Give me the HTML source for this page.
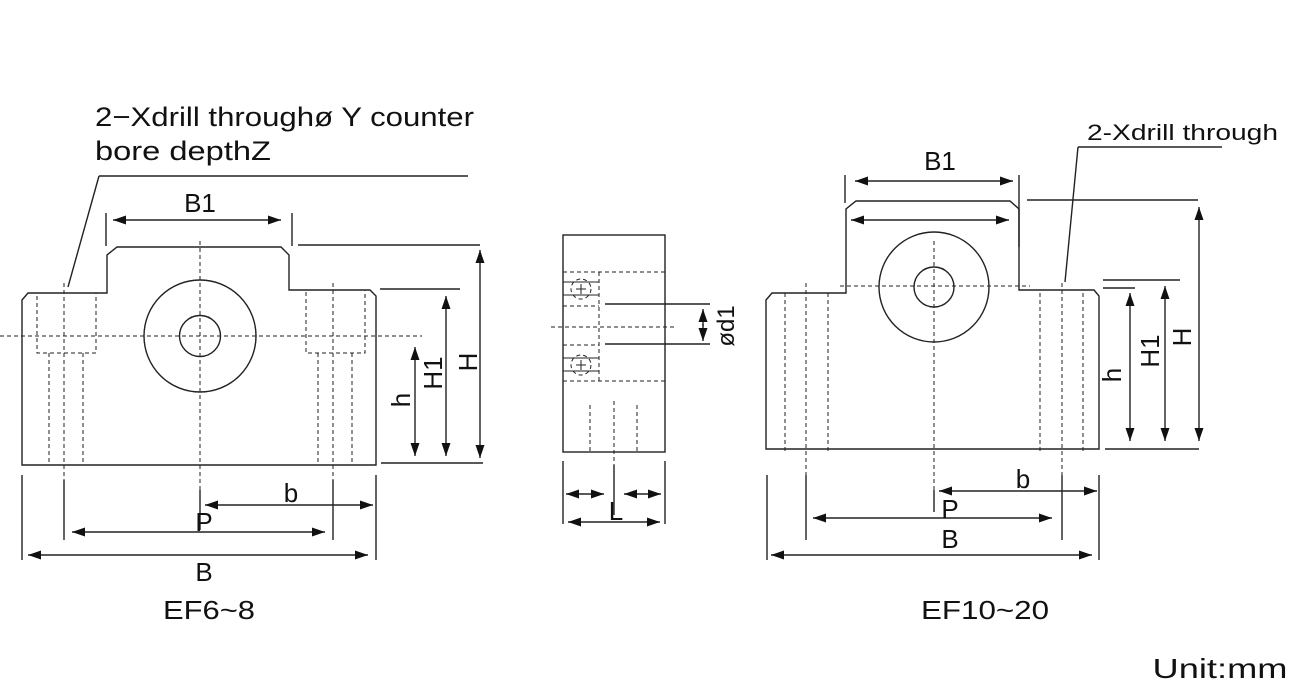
<!DOCTYPE html>
<html><head><meta charset="utf-8"><style>
html,body{margin:0;padding:0;background:#fff;}
svg{display:block;}
text{font-family:"Liberation Sans",Arial,sans-serif;fill:#111;}
</style></head><body>
<svg width="1300" height="689" viewBox="0 0 1300 689" xmlns="http://www.w3.org/2000/svg">
<defs>
<marker id="a" viewBox="0 0 13 9" refX="13" refY="4.5" markerWidth="13" markerHeight="9" markerUnits="userSpaceOnUse" orient="auto-start-reverse"><path d="M0,0 L13,4.5 L0,9 z" fill="#111"/></marker>
</defs>
<g stroke="#222" stroke-width="1.4" fill="none">
<polyline points="99,176 468,176"/><line x1="99" y1="176" x2="68" y2="287"/>
<line x1="106" y1="213" x2="106" y2="246"/><line x1="292" y1="213" x2="292" y2="246"/>
<line x1="113" y1="220" x2="281" y2="220" marker-start="url(#a)" marker-end="url(#a)"/>
<polygon points="22,300 28,293 107,293 107,255 117,247 281,247 289,255 289,290 370,290 376,296 376,465 22,465"/>
<line x1="298" y1="245" x2="480" y2="245"/>
<line x1="480" y1="250" x2="480" y2="458" marker-start="url(#a)" marker-end="url(#a)"/>
<line x1="381" y1="463" x2="483" y2="463"/>
<line x1="380" y1="289" x2="460" y2="289"/>
<line x1="446" y1="296" x2="446" y2="456" marker-start="url(#a)" marker-end="url(#a)"/>
<line x1="415" y1="347" x2="415" y2="456" marker-start="url(#a)" marker-end="url(#a)"/>
<circle cx="200" cy="336" r="56"/><circle cx="200" cy="336" r="20.5"/>
<line x1="22" y1="475" x2="22" y2="560"/><line x1="376" y1="475" x2="376" y2="560"/>
<line x1="64" y1="480" x2="64" y2="540"/><line x1="333" y1="480" x2="333" y2="540"/>
<line x1="200" y1="490" x2="200" y2="530"/>
<line x1="205" y1="505" x2="373" y2="505" marker-start="url(#a)" marker-end="url(#a)"/>
<line x1="72" y1="532" x2="325" y2="532" marker-start="url(#a)" marker-end="url(#a)"/>
<line x1="28" y1="555" x2="368" y2="555" marker-start="url(#a)" marker-end="url(#a)"/>
<rect x="563" y="235" width="102" height="217"/>
<line x1="605" y1="304" x2="710" y2="304"/><line x1="605" y1="344" x2="710" y2="344"/>
<line x1="703" y1="309" x2="703" y2="326" marker-start="url(#a)"/><line x1="703" y1="324" x2="703" y2="341" marker-end="url(#a)"/>
<line x1="614" y1="465" x2="614" y2="515"/>
<line x1="563" y1="461" x2="563" y2="524"/><line x1="665" y1="461" x2="665" y2="524"/>
<line x1="566" y1="494" x2="604" y2="494" marker-start="url(#a)" marker-end="url(#a)"/>
<line x1="624" y1="494" x2="661" y2="494" marker-start="url(#a)" marker-end="url(#a)"/>
<line x1="568" y1="522" x2="660" y2="522" marker-start="url(#a)" marker-end="url(#a)"/>
<line x1="1078" y1="147" x2="1222" y2="147"/><line x1="1078" y1="147" x2="1065" y2="282"/>
<line x1="845" y1="175" x2="845" y2="203"/><line x1="1019" y1="175" x2="1019" y2="247"/>
<line x1="855" y1="181" x2="1013" y2="181" marker-start="url(#a)" marker-end="url(#a)"/>
<line x1="851" y1="220" x2="1009" y2="220" marker-start="url(#a)" marker-end="url(#a)"/>
<polygon points="766,300 772,293 846,293 846,209 856,201 1010,201 1019,209 1019,290 1094,290 1099,296 1099,449 766,449"/>
<circle cx="934" cy="287" r="55"/><circle cx="934" cy="287" r="20"/>
<line x1="1027" y1="200" x2="1198" y2="200"/>
<line x1="1199" y1="207" x2="1199" y2="441" marker-start="url(#a)" marker-end="url(#a)"/>
<line x1="1105" y1="449" x2="1199" y2="449"/>
<line x1="1103" y1="280" x2="1180" y2="280"/>
<line x1="1165" y1="286" x2="1165" y2="441" marker-start="url(#a)" marker-end="url(#a)"/>
<line x1="1103" y1="288" x2="1135" y2="288"/>
<line x1="1130" y1="293" x2="1130" y2="441" marker-start="url(#a)" marker-end="url(#a)"/>
<line x1="767" y1="475" x2="767" y2="560"/><line x1="1099" y1="475" x2="1099" y2="560"/>
<line x1="806" y1="475" x2="806" y2="540"/><line x1="1062" y1="475" x2="1062" y2="540"/>
<line x1="934" y1="490" x2="934" y2="512"/>
<line x1="939" y1="491" x2="1097" y2="491" marker-start="url(#a)" marker-end="url(#a)"/>
<line x1="813" y1="518" x2="1052" y2="518" marker-start="url(#a)" marker-end="url(#a)"/>
<line x1="771" y1="555" x2="1092" y2="555" marker-start="url(#a)" marker-end="url(#a)"/>
</g>
<g stroke="#222" stroke-width="1" fill="none" stroke-dasharray="4,3">
<line x1="0" y1="336" x2="422" y2="336"/>
<line x1="200" y1="241" x2="200" y2="490"/>
<rect x="37" y="293" width="59" height="60"/>
<line x1="49" y1="353" x2="49" y2="465"/><line x1="83" y1="353" x2="83" y2="465"/>
<line x1="64" y1="283" x2="64" y2="480"/>
<rect x="306" y="290" width="59" height="63"/>
<line x1="318" y1="353" x2="318" y2="465"/><line x1="352" y1="353" x2="352" y2="465"/>
<line x1="333" y1="283" x2="333" y2="480"/>
<line x1="563" y1="272" x2="665" y2="272"/><line x1="563" y1="381" x2="665" y2="381"/>
<line x1="599" y1="272" x2="599" y2="381"/>
<line x1="563" y1="306" x2="599" y2="306"/><line x1="563" y1="345" x2="599" y2="345"/>
<line x1="551" y1="327" x2="675" y2="327"/>
<circle cx="581" cy="289" r="10"/><circle cx="581" cy="365" r="10"/>
<line x1="590" y1="405" x2="590" y2="452"/><line x1="614" y1="401" x2="614" y2="465"/><line x1="637" y1="405" x2="637" y2="452"/>
<line x1="840" y1="286" x2="1030" y2="286"/>
<line x1="934" y1="241" x2="934" y2="490"/>
<line x1="785" y1="293" x2="785" y2="453"/><line x1="806" y1="283" x2="806" y2="475"/><line x1="828" y1="293" x2="828" y2="453"/>
<line x1="1040" y1="293" x2="1040" y2="453"/><line x1="1062" y1="283" x2="1062" y2="475"/><line x1="1083" y1="293" x2="1083" y2="453"/>
</g>
<g stroke="#222" stroke-width="1" fill="none">
<line x1="563" y1="282" x2="599" y2="282"/><line x1="563" y1="295" x2="599" y2="295"/>
<line x1="563" y1="358" x2="599" y2="358"/><line x1="563" y1="371" x2="599" y2="371"/>
<line x1="576" y1="289" x2="586" y2="289"/><line x1="581" y1="284" x2="581" y2="294"/>
<line x1="576" y1="365" x2="586" y2="365"/><line x1="581" y1="360" x2="581" y2="370"/>
</g>
<text x="95" y="126" font-size="27" textLength="379" lengthAdjust="spacingAndGlyphs">2−Xdrill throughø Y counter</text>
<text x="95" y="160" font-size="27" textLength="176" lengthAdjust="spacingAndGlyphs">bore depthZ</text>
<text x="200" y="212" font-size="26" text-anchor="middle">B1</text>
<text x="291" y="502" font-size="26" text-anchor="middle">b</text>
<text x="204" y="531" font-size="26" text-anchor="middle">P</text>
<text x="204" y="581" font-size="26" text-anchor="middle">B</text>
<text x="209" y="619" font-size="26" text-anchor="middle" textLength="92" lengthAdjust="spacingAndGlyphs">EF6~8</text>
<text transform="translate(477,362) rotate(-90)" font-size="26" text-anchor="middle">H</text>
<text transform="translate(442,373) rotate(-90)" font-size="26" text-anchor="middle">H1</text>
<text transform="translate(410,400) rotate(-90)" font-size="26" text-anchor="middle">h</text>
<text transform="translate(734,326) rotate(-90)" font-size="24" text-anchor="middle">ød1</text>
<text x="616" y="520" font-size="26" text-anchor="middle">L</text>
<text x="1087" y="140" font-size="22" textLength="191" lengthAdjust="spacingAndGlyphs">2-Xdrill through</text>
<text x="940" y="170" font-size="26" text-anchor="middle">B1</text>
<text transform="translate(1191,337) rotate(-90)" font-size="26" text-anchor="middle">H</text>
<text transform="translate(1159,351) rotate(-90)" font-size="26" text-anchor="middle">H1</text>
<text transform="translate(1121,375) rotate(-90)" font-size="26" text-anchor="middle">h</text>
<text x="1023" y="488" font-size="26" text-anchor="middle">b</text>
<text x="950" y="518" font-size="26" text-anchor="middle">P</text>
<text x="950" y="548" font-size="26" text-anchor="middle">B</text>
<text x="985" y="619" font-size="26" text-anchor="middle" textLength="128" lengthAdjust="spacingAndGlyphs">EF10~20</text>
<text x="1220" y="678" font-size="28" text-anchor="middle" textLength="135" lengthAdjust="spacingAndGlyphs">Unit:mm</text>
</svg>
</body></html>
